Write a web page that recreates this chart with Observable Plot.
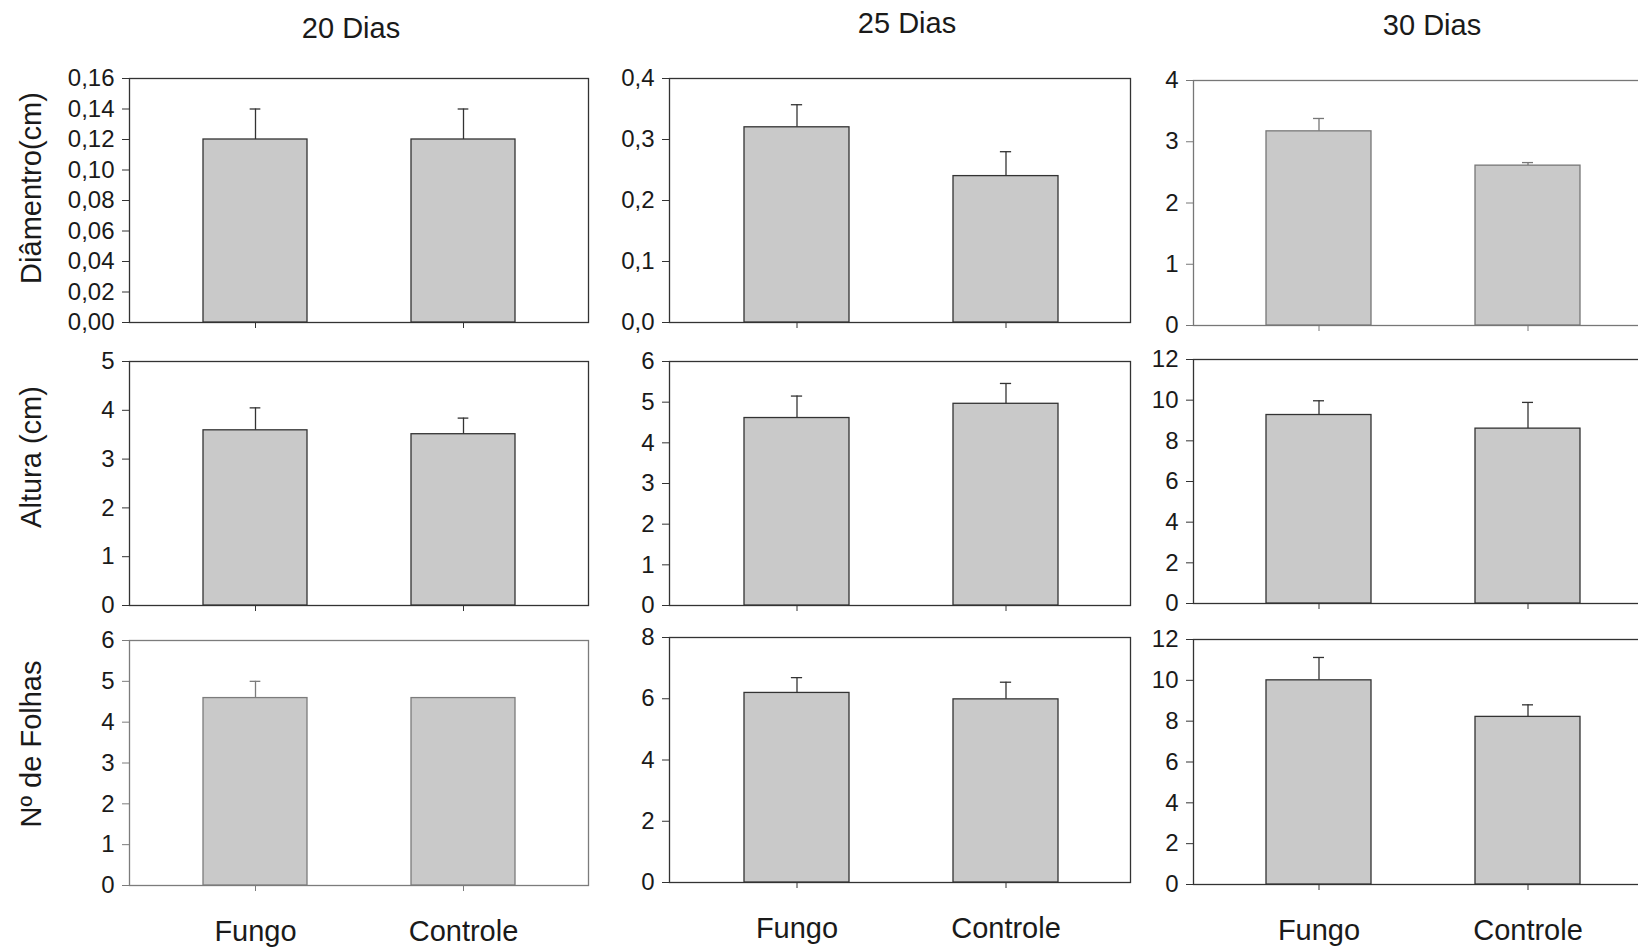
<!DOCTYPE html>
<html><head><meta charset="utf-8">
<script src="https://cdn.jsdelivr.net/npm/d3@7"></script>
<script src="https://cdn.jsdelivr.net/npm/@observablehq/plot@0.6"></script>
<style>
body{margin:0;background:#fff;}
#root{position:relative;width:1638px;height:949px;overflow:hidden;font-family:"Liberation Sans",Arial,sans-serif;color:#1a1a1a;background:#fff;}
.t{position:absolute;font-size:29px;line-height:1;white-space:nowrap;}
.panel{position:absolute;}
</style></head><body><div id="root"></div>
<script>
// ---- data ----
const categories = ["Fungo", "Controle"];
const days = ["20 Dias", "25 Dias", "30 Dias"];
const variables = ["Diâmentro(cm)", "Altura (cm)", "Nº de Folhas"];

const diametroMean = [[0.12, 0.12], [0.32, 0.24], [3.17, 2.61]];
const diametroErr  = [[0.02, 0.02], [0.037, 0.04], [0.21, 0.05]];
const alturaMean   = [[3.59, 3.51], [4.61, 4.96], [9.27, 8.6]];
const alturaErr    = [[0.46, 0.33], [0.54, 0.5], [0.7, 1.29]];
const folhasMean   = [[4.59, 4.59], [6.19, 5.98], [10.0, 8.21]];
const folhasErr    = [[0.41, 0], [0.5, 0.56], [1.12, 0.59]];

const yMax      = [[0.16, 0.4, 4], [5, 6, 12], [6, 8, 12]];
const yStep     = [[0.02, 0.1, 1], [1, 1, 2], [1, 2, 2]];
const yDecimals = [[2, 1, 0], [0, 0, 0], [0, 0, 0]];

const means = [diametroMean, alturaMean, folhasMean];
const errs  = [diametroErr, alturaErr, folhasErr];

// ---- layout (frame positions in page pixels) ----
const colLR = [[129, 588], [669, 1130], [1193, 1655]];
const colAlign = [0.505, 0.51, 0.49];
const rowTB = [
  [[78, 322], [78, 322], [80, 325]],
  [[361, 605], [361, 605], [359, 603]],
  [[640, 885], [637, 882], [639, 884]]
];
const strokeCol = [
  ["#333333", "#333333", "#777777"],
  ["#333333", "#333333", "#333333"],
  ["#7c7c7c", "#333333", "#333333"]
];

const root = document.getElementById("root");
const FONT = '"Liberation Sans", Arial, sans-serif';

function fmt(dec) {
  const f = d3.format(`.${dec}f`);
  return d => f(d).replace(".", ",");
}

for (let r = 0; r < 3; r++) {
  for (let c = 0; c < 3; c++) {
    const [left, right] = colLR[c];
    const [top, bottom] = rowTB[r][c];
    const W = right - left, H = bottom - top;
    const mL = 90, mR = 4, mT = 14, mB = r === 2 ? 75 : 14;
    const data = categories.map((cat, i) => ({cat, v: means[r][c][i], e: errs[r][c][i]}));
    const errData = data.filter(d => d.e > 0);
    const pi = 0.5, po = 0.35;
    const bw = W / (2 - pi + 2 * po) * (1 - pi);
    const capW = 11;
    const col = strokeCol[r][c];
    const n = Math.round(yMax[r][c] / yStep[r][c]);
    const ticks = d3.range(0, n + 1).map(i => +(i * yStep[r][c]).toFixed(6));
    const plot = Plot.plot({
      width: W + mL + mR,
      height: H + mT + mB,
      marginLeft: mL, marginRight: mR, marginTop: mT, marginBottom: mB,
      style: {fontFamily: FONT, fontSize: "24px", color: "#1a1a1a", background: "transparent", overflow: "visible"},
      x: {type: "band", domain: categories, paddingInner: pi, paddingOuter: po, align: colAlign[c]},
      y: {domain: [0, yMax[r][c]]},
      marks: [
        Plot.axisY({ticks, tickSize: 7, tickPadding: 8, tickFormat: fmt(yDecimals[r][c]), fontSize: 24, stroke: col, fill: "#1a1a1a", label: null}),
        Plot.axisX({tickSize: 6, tickPadding: 29, tickFormat: r === 2 ? (d => d) : (() => ""), fontSize: 29, stroke: col, fill: "#1a1a1a", label: null}),
        Plot.frame({stroke: col, strokeWidth: 1.3}),
        Plot.ruleX(errData, {x: "cat", y1: "v", y2: d => d.v + d.e, stroke: col, strokeWidth: 1.3}),
        Plot.tickY(errData, {x: "cat", y: d => d.v + d.e, stroke: col, strokeWidth: 1.3, insetLeft: (bw - capW) / 2, insetRight: (bw - capW) / 2}),
        Plot.barY(data, {x: "cat", y: "v", fill: "#c9c9c9", stroke: col, strokeWidth: 1.3})
      ]
    });
    plot.classList.add("panel");
    plot.style.left = (left - mL) + "px";
    plot.style.top = (top - mT) + "px";
    root.appendChild(plot);
  }
}

// column titles
const titlePos = [[351, 14], [907, 9], [1432, 11]];
days.forEach((d, i) => {
  const el = document.createElement("div");
  el.className = "t";
  el.textContent = d;
  el.style.left = titlePos[i][0] + "px";
  el.style.top = titlePos[i][1] + "px";
  el.style.transform = "translateX(-50%)";
  root.appendChild(el);
});

// row labels (rotated)
const labelPos = [[31, 188], [31, 457], [31, 744]];
variables.forEach((v, i) => {
  const el = document.createElement("div");
  el.className = "t";
  el.textContent = v;
  el.style.left = labelPos[i][0] + "px";
  el.style.top = labelPos[i][1] + "px";
  el.style.transform = "translate(-50%,-50%) rotate(-90deg)";
  root.appendChild(el);
});
</script>
</body></html>
